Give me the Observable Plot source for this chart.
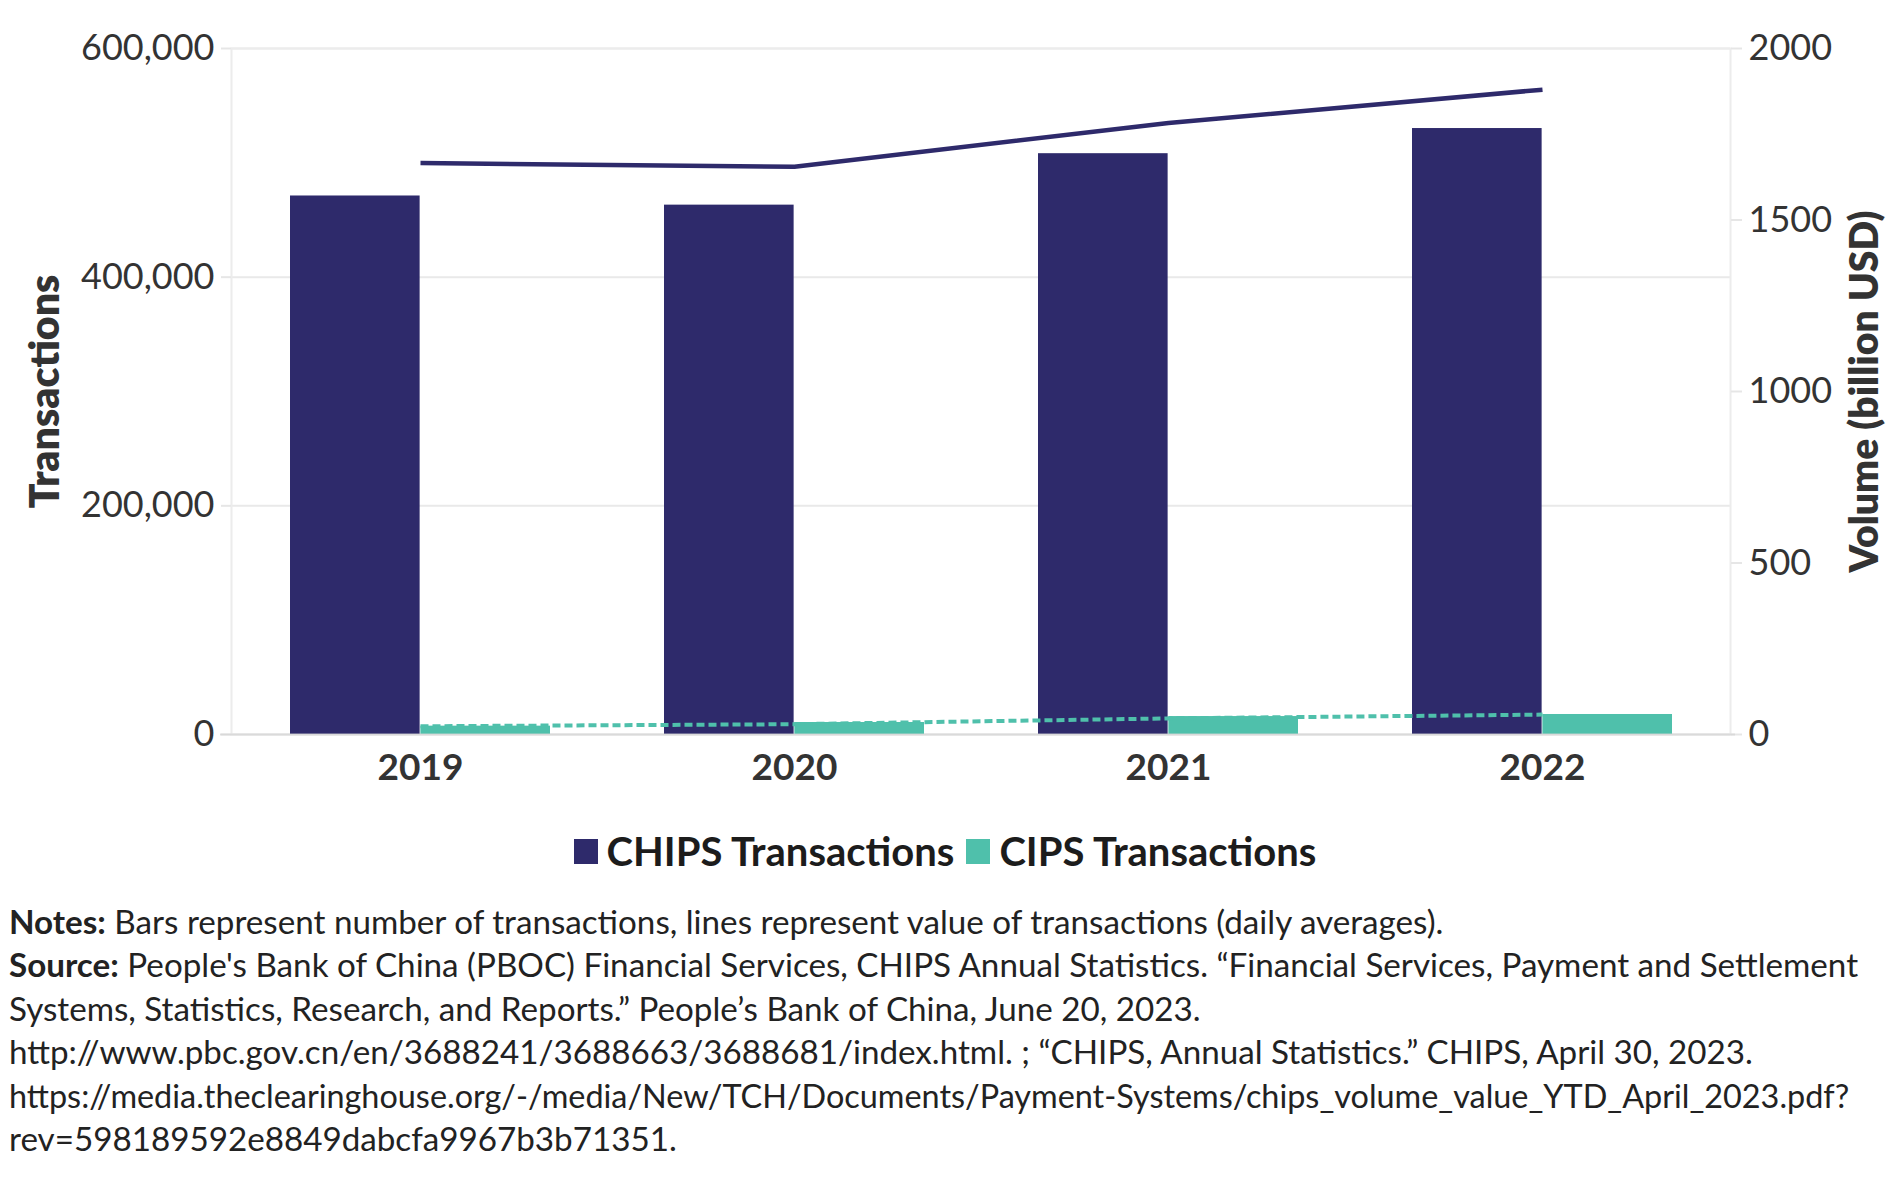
<!DOCTYPE html>
<html>
<head>
<meta charset="utf-8">
<script src="https://cdn.jsdelivr.net/npm/d3@7"></script>
<script src="https://cdn.jsdelivr.net/npm/@observablehq/plot@0.6"></script>
<style>
  html, body { margin: 0; padding: 0; background: #ffffff; }
  body { width: 1890px; height: 1177px; position: relative; overflow: hidden; font-family: "Lato", "Source Sans Pro", sans-serif; }
  #chart { position: absolute; left: 0; top: 0; }
  #legend { position: absolute; left: 0; top: 827px; width: 1890px; height: 48px; display: flex; justify-content: center; align-items: center; font-weight: 700; font-size: 40px; color: #1c1c1c; }
  #legend .sw { display: inline-block; width: 24px; height: 25px; margin-right: 9px; }
  #legend .item { display: flex; align-items: center; margin: 0 6px; }
  #notes { position: absolute; left: 9px; top: 900px; font-size: 33.2px; line-height: 43.4px; color: #222; white-space: nowrap; }
  #notes div { height: 43.4px; }
  #notes div.long { font-size: 32.4px; }
  #notes b { font-weight: 700; }
</style>
</head>
<body>
<div id="chart"></div>
<div id="legend"></div>
<div id="notes"></div>
<script>
// ---- data ----
const years = ["2019", "2020", "2021", "2022"];
const chipsTransactions = [471000, 463000, 508000, 530000];
const cipsTransactions = [7300, 10500, 15700, 17500];
const chipsValue = [1666, 1655, 1783, 1880];      // billion USD (right axis)
const cipsValue = [24, 30, 47, 58];               // billion USD (right axis)
const leftTicks = [0, 200000, 400000, 600000];
const rightTicks = [0, 500, 1000, 1500, 2000];
const seriesNames = ["CHIPS Transactions", "CIPS Transactions"];
const colors = ["#2e2a6b", "#4fc0ab"];
const noteLines = [
  ["Notes:", " Bars represent number of transactions, lines represent value of transactions (daily averages)."],
  ["Source:", " People's Bank of China (PBOC) Financial Services, CHIPS Annual Statistics. \u201cFinancial Services, Payment and Settlement"],
  ["", "Systems, Statistics, Research, and Reports.\u201d People\u2019s Bank of China, June 20, 2023."],
  ["", "http://www.pbc.gov.cn/en/3688241/3688663/3688681/index.html. ; \u201cCHIPS, Annual Statistics.\u201d CHIPS, April 30, 2023."],
  ["", "https://media.theclearinghouse.org/-/media/New/TCH/Documents/Payment-Systems/chips_volume_value_YTD_April_2023.pdf?"],
  ["", "rev=598189592e8849dabcfa9967b3b71351."]
];

// ---- derived table ----
const data = years.map((year, i) => ({
  year,
  chips: chipsTransactions[i],
  cips: cipsTransactions[i],
  chipsVal: chipsValue[i],
  cipsVal: cipsValue[i]
}));

const W = 1890, H = 800;
const mL = 231, mR = 160, mT = 48, mB = 66;
const leftMax = 600000, rightMax = 2000;
const k = leftMax / rightMax; // right-axis value -> left scale
const half = (W - mL - mR) / years.length / 2;
const outer = 57;

const chart = Plot.plot({
  width: W,
  height: H,
  marginLeft: mL,
  marginRight: mR,
  marginTop: mT,
  marginBottom: mB,
  style: { fontFamily: "Lato, sans-serif", background: "#ffffff", overflow: "visible" },
  x: { domain: years, padding: 0, axis: null },
  y: { domain: [0, leftMax], axis: null },
  marks: [
    Plot.gridY(leftTicks, { stroke: "#e9e9e9", strokeOpacity: 1, strokeWidth: 2 }),
    Plot.frame({ stroke: "#ececec", strokeWidth: 2 }),
    Plot.axisY(leftTicks, {
      anchor: "left", tickSize: 10, tickPadding: 7, stroke: "#e6e6e6", strokeWidth: 2,
      fill: "#333", fontSize: 36, tickFormat: d3.format(","), label: null
    }),
    Plot.axisY(rightTicks.map(v => v * k), {
      anchor: "right", tickSize: 11, tickPadding: 7, stroke: "#e6e6e6", strokeWidth: 2,
      fill: "#333", fontSize: 36, tickFormat: d => String(Math.round(d / k)), label: null
    }),
    Plot.axisX({
      anchor: "bottom", tickSize: 0, tickPadding: 19, fill: "#333",
      fontSize: 37, fontWeight: "bold", label: null
    }),
    Plot.barY(data, { x: "year", y: "chips", fill: colors[0], insetLeft: outer, insetRight: half }),
    Plot.barY(data, { x: "year", y: "cips", fill: colors[1], insetLeft: half, insetRight: outer }),
    Plot.ruleY([0], { stroke: "#d6d6d6", strokeOpacity: 0.8, strokeWidth: 2, insetLeft: -11, insetRight: -5 }),
    Plot.lineY(data, { x: "year", y: d => d.chipsVal * k, stroke: colors[0], strokeWidth: 4.5, strokeLinecap: "butt" }),
    Plot.lineY(data, { x: "year", y: d => d.cipsVal * k, stroke: colors[1], strokeWidth: 4, strokeDasharray: "8,4", strokeLinecap: "butt" }),
    Plot.text(["Transactions"], {
      frameAnchor: "left", dx: -186, rotate: -90, fontSize: 41, fontWeight: 800, fill: "#333",
      lineAnchor: "middle", textAnchor: "middle"
    }),
    Plot.text(["Volume (billion USD)"], {
      frameAnchor: "right", dx: 135, rotate: -90, fontSize: 39, fontWeight: 800, fill: "#333",
      lineAnchor: "middle", textAnchor: "middle"
    })
  ]
});
document.getElementById("chart").appendChild(chart);

// legend
const legend = document.getElementById("legend");
seriesNames.forEach((name, i) => {
  const item = document.createElement("span");
  item.className = "item";
  const sw = document.createElement("span");
  sw.className = "sw";
  sw.style.background = colors[i];
  item.appendChild(sw);
  item.appendChild(document.createTextNode(name));
  legend.appendChild(item);
});

// notes
const notes = document.getElementById("notes");
noteLines.forEach(([bold, rest], i) => {
  const div = document.createElement("div");
  if (i === 4) div.className = "long";
  if (bold) {
    const b = document.createElement("b");
    b.textContent = bold;
    div.appendChild(b);
  }
  div.appendChild(document.createTextNode(rest));
  notes.appendChild(div);
});
</script>
</body>
</html>
